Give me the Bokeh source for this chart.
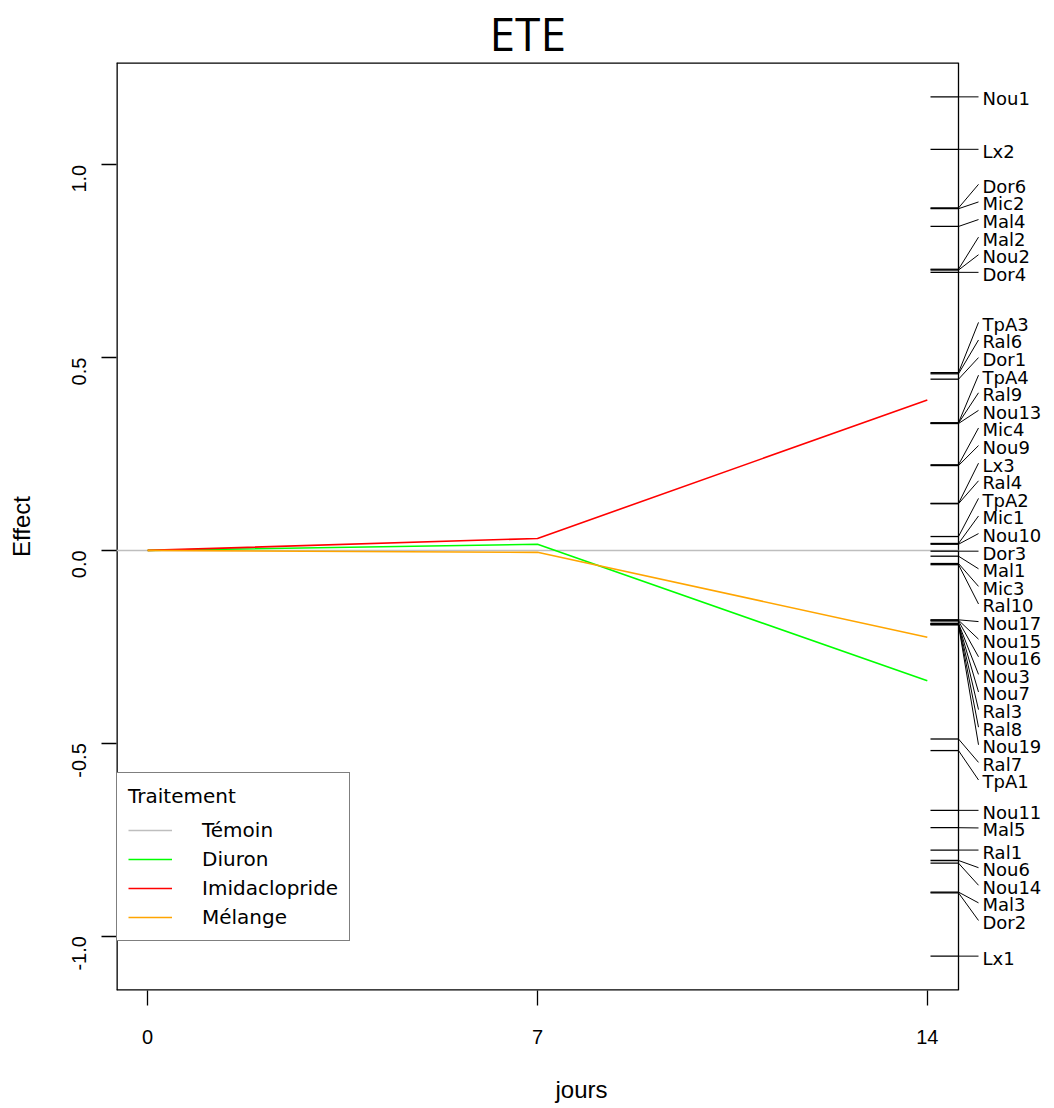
import numpy as np
from bokeh.plotting import figure
from bokeh.models import (Range1d, LinearAxis, FixedTicker, PrintfTickFormatter,
                          Legend, LegendItem)
from bokeh.core.properties import value
from bokeh.embed import file_html
from bokeh.resources import INLINE

# ---------------- data ----------------
days = [0, 7, 14]
treatments = ["Témoin", "Diuron", "Imidaclopride", "Mélange"]
temoin = [0.0, 0.0, 0.0]
diuron = [0.0, 0.016, -0.338]
imidaclopride = [0.0, 0.031, 0.390]
melange = [0.0, -0.005, -0.225]
colors = ["#BEBEBE", "#00FF00", "#FF0000", "#FFA500"]

species = ["Nou1", "Lx2", "Dor6", "Mic2", "Mal4", "Mal2", "Nou2", "Dor4",
           "TpA3", "Ral6", "Dor1", "TpA4", "Ral9", "Nou13", "Mic4", "Nou9",
           "Lx3", "Ral4", "TpA2", "Mic1", "Nou10", "Dor3", "Mal1", "Mic3",
           "Ral10", "Nou17", "Nou15", "Nou16", "Nou3", "Nou7", "Ral3", "Ral8",
           "Nou19", "Ral7", "TpA1", "Nou11", "Mal5", "Ral1", "Nou6", "Nou14",
           "Mal3", "Dor2", "Lx1"]
species_scores = [1.176, 1.040, 0.888, 0.886, 0.840, 0.729, 0.727, 0.721,
                  0.461, 0.458, 0.444, 0.331, 0.330, 0.329, 0.222, 0.220,
                  0.122, 0.121, 0.036, 0.018, 0.016, -0.002, -0.015, -0.034,
                  -0.037, -0.180, -0.181, -0.183, -0.189, -0.190, -0.191, -0.192,
                  -0.193, -0.489, -0.519, -0.674, -0.719, -0.777, -0.804, -0.811,
                  -0.886, -0.888, -1.052]

# ---------------- layout constants ----------------
BOX_W, BOX_H = 842, 928
FRAME_W = 930
LEFT, TOP, BOTTOM = 116, 62, 110

x_lo, x_hi = -0.04 * 14, 14 + 0.04 * 14
ppu_x = BOX_W / (x_hi - x_lo)
x_end = x_lo + FRAME_W / ppu_x

allv = species_scores + diuron + imidaclopride + melange + temoin
lo, hi = min(allv), max(allv)
ext = 0.04 * (hi - lo)
y_lo, y_hi = lo - ext, hi + ext
ppu_y = BOX_H / (y_hi - y_lo)

# linestack label positions (like vegan::linestack)
sc = np.array(species_scores)
order = np.argsort(sc, kind="stable")
xs = sc[order]
n = len(xs)
ht = 17.6 / ppu_y
pos = np.empty(n)
mid = (n + 1) // 2 - 1
pos[mid] = xs[mid]
for i in range(mid + 1, n):
    pos[i] = max(xs[i], pos[i - 1] + ht)
for i in range(mid - 1, -1, -1):
    pos[i] = min(xs[i], pos[i + 1] - ht)
names = [species[k] for k in order]

at = x_hi
diff = 28 / ppu_x
hoff = 20 / ppu_x
toff = 4 / ppu_x

# ---------------- figure ----------------
p = figure(frame_width=FRAME_W, frame_height=BOX_H,
           x_range=Range1d(x_lo, x_end), y_range=Range1d(y_lo, y_hi),
           min_border_left=LEFT, min_border_right=0, min_border_top=TOP,
           min_border_bottom=BOTTOM, output_backend="svg", toolbar_location=None,
           x_axis_location=None, y_axis_location=None, title="ETE")
p.grid.visible = False
p.outline_line_color = None
p.background_fill_color = "white"
p.border_fill_color = "white"

p.title.text_font = "Open Sans"
p.title.text_font_size = "46px"
p.title.text_font_style = "normal"
p.title.align = "left"
p.title.offset = 373
p.title.standoff = -3
p.title.text_color = "black"

yax = LinearAxis(ticker=FixedTicker(ticks=[-1.0, -0.5, 0.0, 0.5, 1.0]),
                 formatter=PrintfTickFormatter(format="%.1f"),
                 axis_label="Effect")
xax = LinearAxis(ticker=FixedTicker(ticks=days), bounds=(x_lo, x_hi),
                 axis_label="jours")
for ax in (yax, xax):
    ax.axis_line_color = None
    ax.major_tick_out = 15
    ax.major_tick_in = 0
    ax.major_tick_line_color = "black"
    ax.major_tick_line_width = 1.3
    ax.minor_tick_line_color = None
    ax.major_label_text_font = "Liberation Sans"
    ax.major_label_text_font_size = "20px"
    ax.major_label_text_color = "black"
    ax.axis_label_text_font = "Liberation Sans"
    ax.axis_label_text_font_size = "24px"
    ax.axis_label_text_font_style = "normal"
    ax.axis_label_text_color = "black"
yax.major_label_orientation = np.pi / 2
yax.major_label_standoff = 22
yax.axis_label_standoff = 28
xax.major_label_standoff = 24
xax.axis_label_standoff = 29
p.add_layout(yax, "left")
p.add_layout(xax, "below")

# box (left/top/bottom on frame edges -> doubled width, half clipped)
p.segment(x0=[x_lo, x_lo, x_lo], y0=[y_lo, y_hi, y_lo],
          x1=[x_lo, x_hi, x_hi], y1=[y_hi, y_hi, y_lo],
          line_color="black", line_width=2.6)
p.segment(x0=[x_hi], y0=[y_lo], x1=[x_hi], y1=[y_hi],
          line_color="black", line_width=1.3)

# control reference line
r_tem = p.segment(x0=[x_lo], y0=[temoin[0]], x1=[x_hi], y1=[temoin[-1]],
                  line_color=colors[0], line_width=1.5)
r_diu = p.line(days, diuron, line_color=colors[1], line_width=1.6)
r_imi = p.line(days, imidaclopride, line_color=colors[2], line_width=1.6)
r_mel = p.line(days, melange, line_color=colors[3], line_width=1.6)

# species linestack
p.segment(x0=[at - diff] * n, y0=list(xs), x1=[at] * n, y1=list(xs),
          line_color="black", line_width=1.3)
p.segment(x0=[at] * n, y0=list(xs), x1=[at + hoff] * n, y1=list(pos),
          line_color="black", line_width=1.0)
p.text(x=[at + hoff + toff] * n, y=list(pos), text=names,
       text_font=value("DejaVu Sans"), text_font_size="18px",
       text_baseline="middle", text_align="left", text_color="black",
       y_offset=2)

legend = Legend(items=[LegendItem(label=treatments[0], renderers=[r_tem]),
                       LegendItem(label=treatments[1], renderers=[r_diu]),
                       LegendItem(label=treatments[2], renderers=[r_imi]),
                       LegendItem(label=treatments[3], renderers=[r_mel])],
                location=(0, 49), title="Traitement")
legend.title_text_font = "DejaVu Sans"
legend.title_text_font_size = "20px"
legend.title_text_font_style = "normal"
legend.title_text_color = "black"
legend.title_standoff = 10
legend.label_text_font = "DejaVu Sans"
legend.label_text_font_size = "20px"
legend.label_text_color = "black"
legend.glyph_width = 44
legend.glyph_height = 20
legend.label_height = 20
legend.spacing = 5
legend.padding = 11
legend.margin = 0
legend.label_standoff = 30
legend.border_line_color = "black"
legend.border_line_width = 1.3
legend.background_fill_alpha = 1.0
p.add_layout(legend, "center")

open("out.html", "w").write(file_html(p, INLINE))
